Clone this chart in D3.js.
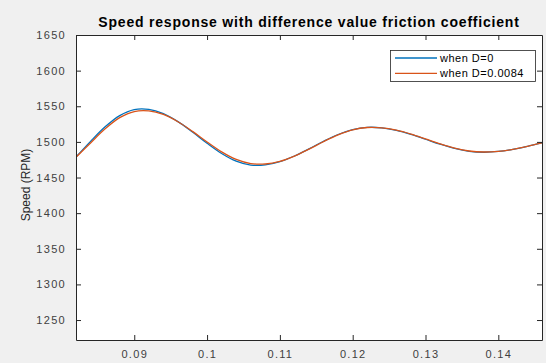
<!DOCTYPE html>
<html>
<head>
<meta charset="utf-8">
<script src="https://cdn.jsdelivr.net/npm/d3@7"></script>
<style>
  html, body { margin: 0; padding: 0; background: #f0f0f0; }
  svg { display: block; }
  text { font-family: "Liberation Sans", Arial, Helvetica, sans-serif; }
</style>
</head>
<body>
<svg id="chart" width="546" height="363"></svg>
<script>
// ---- data ----
const time = [0.082, 0.084, 0.086, 0.088, 0.090, 0.092, 0.094, 0.096, 0.098, 0.100,
              0.102, 0.104, 0.106, 0.108, 0.110, 0.112, 0.114, 0.116, 0.118, 0.120,
              0.122, 0.124, 0.126, 0.128, 0.130, 0.132, 0.134, 0.136, 0.138, 0.140,
              0.142, 0.144, 0.146];
const speedD0 = [1478.7, 1500.7, 1521.1, 1536.9, 1545.4, 1545.7, 1539.6, 1528.4, 1513.8, 1498.1,
                 1483.8, 1473.0, 1467.5, 1467.8, 1472.3, 1480.2, 1490.3, 1500.9, 1510.4, 1517.2,
                 1520.4, 1519.7, 1516.2, 1510.6, 1503.7, 1496.7, 1490.8, 1486.8, 1485.5, 1486.6,
                 1489.5, 1493.8, 1498.7];
const speedD0084 = [1478.4, 1498.5, 1518.3, 1534.0, 1542.6, 1543.5, 1538.5, 1528.3, 1514.8, 1499.9,
                    1486.0, 1475.4, 1469.6, 1469.0, 1472.6, 1480.0, 1489.8, 1500.4, 1509.9, 1516.9,
                    1520.2, 1519.8, 1516.5, 1511.0, 1504.2, 1497.2, 1491.2, 1487.2, 1485.8, 1486.7,
                    1489.5, 1493.7, 1498.6];
const seriesNames = ["when D=0", "when D=0.0084"];
const xTicks = [0.09, 0.10, 0.11, 0.12, 0.13, 0.14];
const xTickLabels = ["0.09", "0.1", "0.11", "0.12", "0.13", "0.14"];
const yTicks = [1250, 1300, 1350, 1400, 1450, 1500, 1550, 1600, 1650];
const titleText = "Speed response with difference value friction coefficient";
const yLabelText = "Speed (RPM)";

// ---- layout ----
const svg = d3.select("#chart");
const L = 76, R = 542, T = 35, B = 340;
const colors = ["#0072BD", "#D95319"];
const axisColor = "#262626";
const tickLen = 5;

const x = d3.scaleLinear().domain([0.082, 0.146]).range([L, R]);
const y = d3.scaleLinear().domain([1222, 1650]).range([B, T]);

// plot background
svg.append("rect").attr("x", L).attr("y", T).attr("width", R - L).attr("height", B - T)
   .attr("fill", "#ffffff");

svg.append("defs").append("clipPath").attr("id", "clip")
   .append("rect").attr("x", L).attr("y", T).attr("width", R - L).attr("height", B - T);

// lines
const line = d3.line().x((d, i) => x(time[i])).y(d => y(d)).curve(d3.curveCatmullRom.alpha(0.5));
[speedD0, speedD0084].forEach((s, k) => {
  svg.append("path").datum(s)
     .attr("clip-path", "url(#clip)")
     .attr("fill", "none").attr("stroke", colors[k]).attr("stroke-width", 1.3)
     .attr("d", line);
});

// axes
const fmt = (d) => xTickLabels[xTicks.indexOf(d)];
const xAxisB = d3.axisBottom(x).tickValues(xTicks).tickSizeInner(-tickLen).tickSizeOuter(0)
  .tickPadding(10).tickFormat(fmt);
const xAxisT = d3.axisTop(x).tickValues(xTicks).tickSizeInner(-tickLen).tickSizeOuter(0).tickFormat("");
const yAxisL = d3.axisLeft(y).tickValues(yTicks).tickSizeInner(-tickLen).tickSizeOuter(0)
  .tickPadding(10).tickFormat(d3.format("d"));
const yAxisR = d3.axisRight(y).tickValues(yTicks).tickSizeInner(-tickLen).tickSizeOuter(0).tickFormat("");

function style(g) {
  g.select(".domain").attr("stroke", axisColor).attr("stroke-width", 1);
  g.selectAll(".tick line").attr("stroke", axisColor);
  g.selectAll(".tick text").attr("fill", "#404040").attr("font-size", 11)
   .attr("letter-spacing", "1.3px")
   .attr("font-family", "'Liberation Sans', Arial, sans-serif");
}
svg.append("g").attr("transform", `translate(0,${B})`).call(xAxisB).call(style);
svg.append("g").attr("transform", `translate(0,${T})`).call(xAxisT).call(style);
svg.append("g").attr("transform", `translate(${L},0)`).call(yAxisL).call(style);
svg.append("g").attr("transform", `translate(${R},0)`).call(yAxisR).call(style);

// title
svg.append("text").attr("x", (L + R) / 2).attr("y", 27).attr("text-anchor", "middle")
   .attr("font-size", 14).attr("font-weight", "bold").attr("fill", "#000")
   .attr("letter-spacing", "0.8px")
   .text(titleText);

// y label
svg.append("text").attr("transform", `translate(30,185) rotate(-90)`).attr("text-anchor", "middle")
   .attr("font-size", 12).attr("fill", "#262626").text(yLabelText);

// legend
const lg = svg.append("g");
lg.append("rect").attr("x", 390.5).attr("y", 50.5).attr("width", 145).attr("height", 31)
  .attr("fill", "#fff").attr("stroke", "#262626").attr("stroke-width", 0.8);
seriesNames.forEach((name, k) => {
  const yy = 58 + k * 15.3;
  lg.append("line").attr("x1", 395).attr("x2", 437).attr("y1", yy).attr("y2", yy)
    .attr("stroke", colors[k]).attr("stroke-width", 1.3);
  lg.append("text").attr("x", 440).attr("y", yy + 3.8).attr("font-size", 11)
    .attr("letter-spacing", "0.5px")
    .attr("fill", "#000").text(name);
});
</script>
</body>
</html>
